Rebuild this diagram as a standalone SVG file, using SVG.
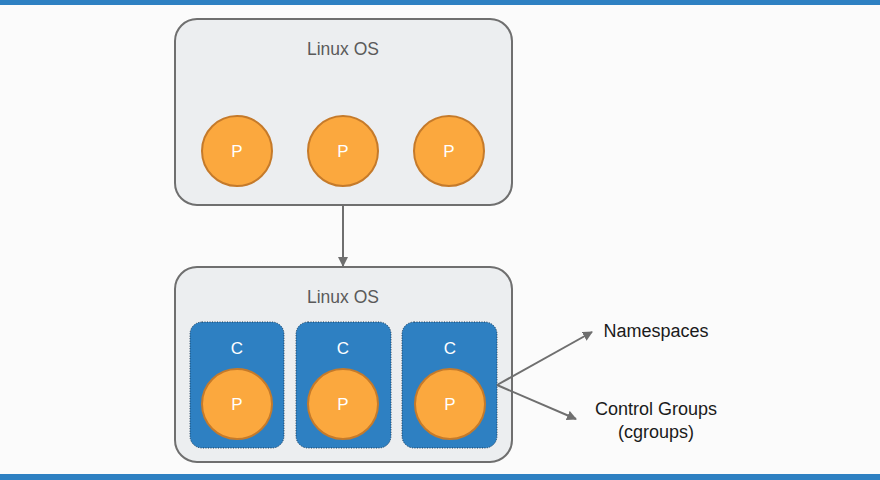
<svg xmlns="http://www.w3.org/2000/svg" width="880" height="480" viewBox="0 0 880 480">
<defs>
<style>
.os{fill:#eceef0;stroke:#6f6f6f;stroke-width:2}
.ct{fill:#2e80c2;stroke:#1d3a55;stroke-width:1;stroke-dasharray:1 1.5}
.p{fill:#fba83e;stroke:#c57a2a;stroke-width:2}
.lbl{font-family:"Liberation Sans",Arial,sans-serif;font-size:17px;text-anchor:middle}
.big{font-size:18px}
.gray{fill:#5a5a5a}
.white{fill:#ffffff}
.dark{fill:#1a1a1a}
.edge{stroke:#6f6f6f;stroke-width:2;fill:none}
</style>
<marker id="ah" viewBox="0 0 10 10" refX="9" refY="5" markerWidth="5" markerHeight="5" orient="auto" markerUnits="strokeWidth">
<path d="M0,0 L10,5 L0,10 z" fill="#6f6f6f"/>
</marker>
</defs>
<rect x="0" y="0" width="880" height="480" fill="#fbfbfb"/>
<rect x="0" y="0" width="880" height="5" fill="#2e80c2"/>
<rect x="0" y="474" width="880" height="6" fill="#2e80c2"/>

<g id="linux-os-top">
<rect class="os" x="175" y="19" width="337" height="186" rx="22"/>
<text class="lbl gray" x="343" y="55" style="font-size:17.5px">Linux OS</text>
</g>
<g id="p1"><circle class="p" cx="237" cy="151" r="35"/><text class="lbl white" x="237" y="157">P</text></g>
<g id="p2"><circle class="p" cx="343" cy="151" r="35"/><text class="lbl white" x="343" y="157">P</text></g>
<g id="p3"><circle class="p" cx="449" cy="151" r="35"/><text class="lbl white" x="449" y="157">P</text></g>

<g id="linux-os-bottom">
<rect class="os" x="175" y="267" width="337" height="195" rx="22"/>
<text class="lbl gray" x="343" y="303" style="font-size:17.5px">Linux OS</text>
</g>
<g id="c1"><rect class="ct" x="190" y="322" width="94" height="126" rx="12"/><text class="lbl white" x="237" y="354">C</text></g>
<g id="c2"><rect class="ct" x="296" y="322" width="95" height="126" rx="12"/><text class="lbl white" x="343" y="354">C</text></g>
<g id="c3"><rect class="ct" x="402" y="322" width="95" height="126" rx="12"/><text class="lbl white" x="450" y="354">C</text></g>
<g id="cp1"><circle class="p" cx="237" cy="404" r="35"/><text class="lbl white" x="237" y="410">P</text></g>
<g id="cp2"><circle class="p" cx="343" cy="404" r="35"/><text class="lbl white" x="343" y="410">P</text></g>
<g id="cp3"><circle class="p" cx="450" cy="404" r="35"/><text class="lbl white" x="450" y="410">P</text></g>

<g id="namespaces"><text class="lbl big dark" x="656" y="337">Namespaces</text></g>
<g id="cgroups"><text class="lbl big dark" x="656" y="415">Control Groups</text><text class="lbl big dark" x="656" y="438">(cgroups)</text></g>

<g id="connectors">
<line class="edge" x1="497" y1="385" x2="592" y2="332" marker-end="url(#ah)"/>
<line class="edge" x1="343" y1="205" x2="343" y2="266" marker-end="url(#ah)"/>
<line class="edge" x1="497" y1="385" x2="576" y2="419" marker-end="url(#ah)"/>
</g>
</svg>
